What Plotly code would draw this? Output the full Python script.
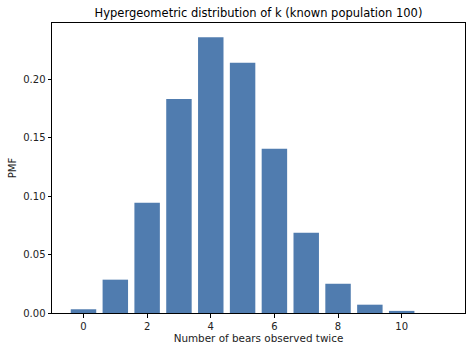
import plotly.graph_objects as go

ks = list(range(11))
pmf = [0.0032, 0.0285, 0.0943, 0.183, 0.2357, 0.214, 0.1404, 0.0686, 0.025, 0.0071, 0.0018]
title = "Hypergeometric distribution of k (known population 100)"
xlabel = "Number of bears observed twice"
ylabel = "PMF"

fig = go.Figure(go.Bar(x=ks, y=pmf, width=0.8, marker=dict(color="#507CAF", line=dict(width=0))))

font = dict(family="DejaVu Sans", size=10, color="#222")
fig.update_layout(
    width=472, height=352,
    margin=dict(l=52, r=7, t=23, b=39),
    paper_bgcolor="white", plot_bgcolor="white",
    font=font,
    showlegend=False,
    title=dict(text=title, x=(52 + 465) / 2 / 472, xanchor="center", y=1 - 13 / 352, yanchor="middle",
               font=dict(family="DejaVu Sans", size=11.5, color="black")),
)
axis_common = dict(showline=True, linecolor="black", linewidth=1, mirror=True, ticks="outside",
                   ticklen=3.5, tickcolor="black", showgrid=False, zeroline=False,
                   tickfont=dict(family="DejaVu Sans", size=10, color="#222"))
fig.update_xaxes(range=[-0.99, 11.99], tickvals=[0, 2, 4, 6, 8, 10],
                 title=dict(text=xlabel, font=dict(family="DejaVu Sans", size=10.4, color="#222"), standoff=4),
                 **axis_common)
fig.update_yaxes(range=[0, 0.2479], tickvals=[0, 0.05, 0.10, 0.15, 0.20], tickformat=".2f",
                 title=dict(text=ylabel, font=dict(family="DejaVu Sans", size=10, color="#222"), standoff=4),
                 **axis_common)
fig.write_html("out.html")
